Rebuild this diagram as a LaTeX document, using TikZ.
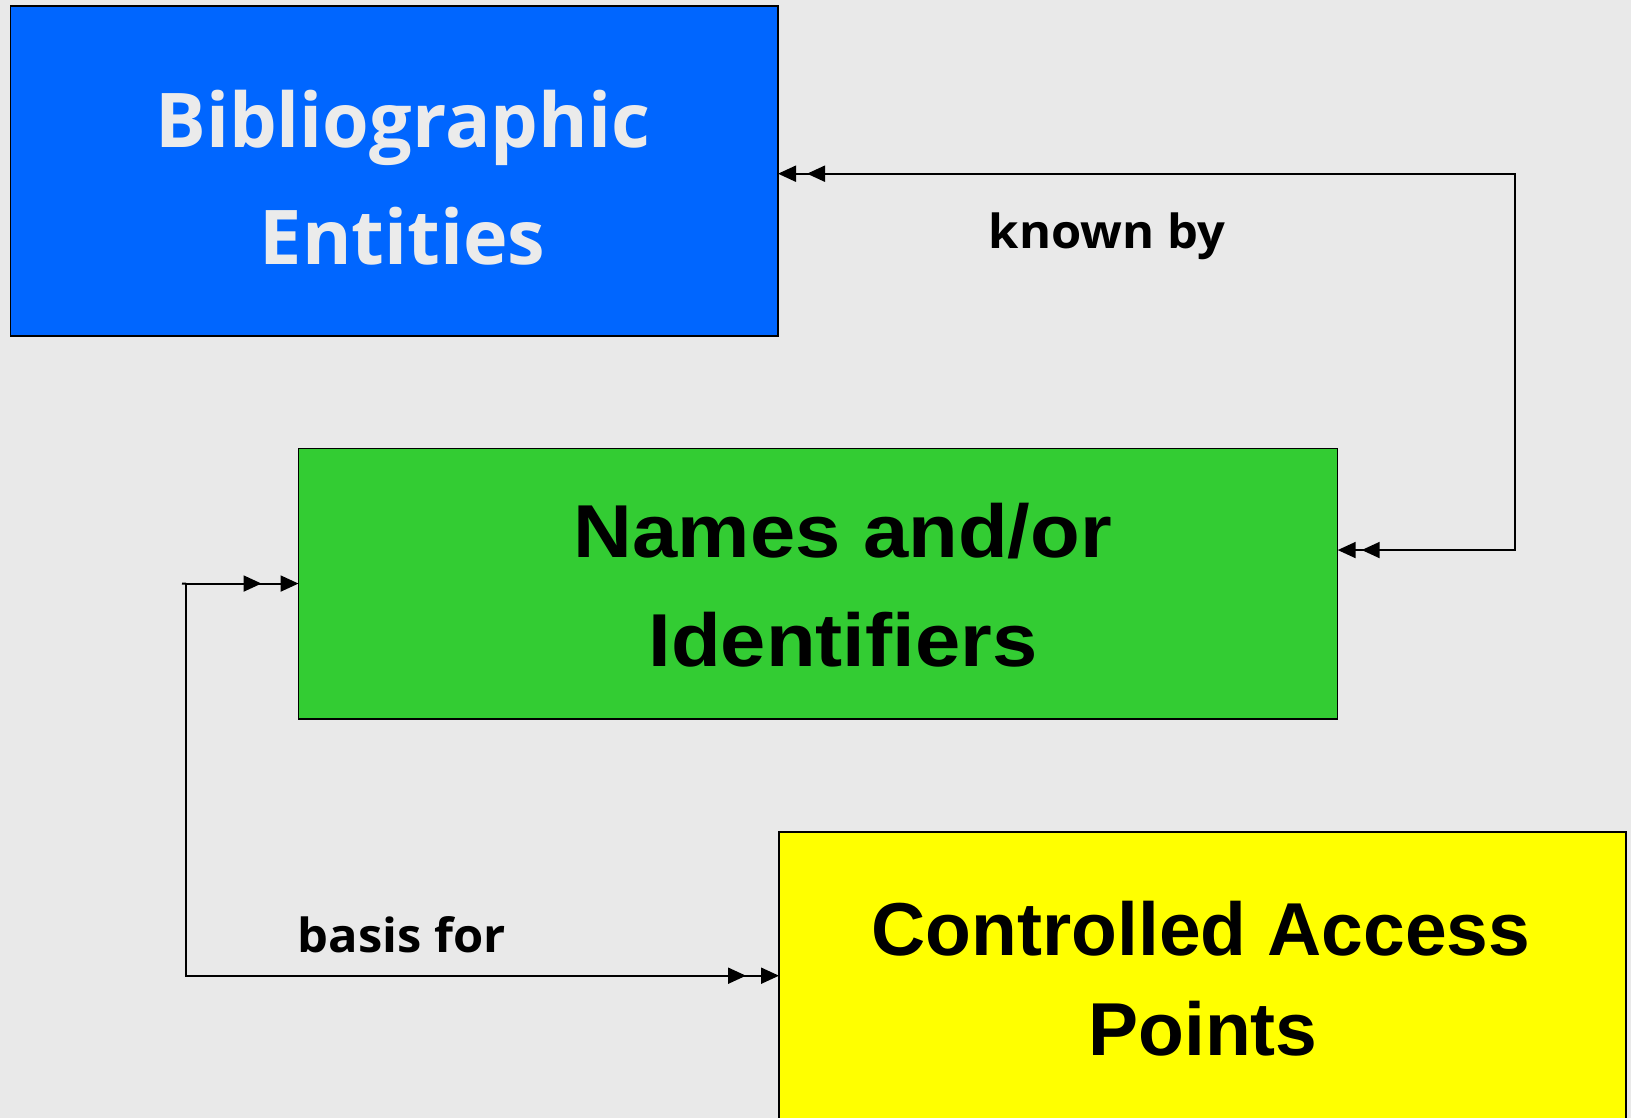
\documentclass[tikz,border=0pt]{standalone}
\usepackage{fontspec}
\setmainfont{Liberation Sans}
\newfontfamily\osans{Open Sans}
\newfontfamily\lblsans[FakeStretch=1.04]{Open Sans}
\newfontfamily\lsans[FakeStretch=1.085]{Liberation Sans}
\newfontfamily\nsans[FakeStretch=1.0]{Liberation Sans}
\usetikzlibrary{arrows.meta}
\definecolor{bgc}{HTML}{E9E9E9}
\definecolor{bibblue}{HTML}{0066FF}
\definecolor{namegreen}{HTML}{33CC33}
\definecolor{capyellow}{HTML}{FFFF00}
\definecolor{bibtext}{HTML}{EBEBEB}
\begin{document}
\begin{tikzpicture}[x=1pt,y=-1pt,
  box/.style={draw=black,line width=1.5pt,anchor=north west,inner sep=0pt,outer sep=0pt},
  bigtxt/.style={anchor=base,inner sep=0pt},
  lbl/.style={anchor=base,inner sep=0pt,font=\lblsans\fontsize{47}{50}\selectfont\bfseries},
  conn/.style={draw=black,line width=2pt},
  tipT/.tip={Triangle[length=18pt,width=16pt]},
  kbarrow/.style={conn,{tipT[]tipT[sep=6pt]}-{tipT[sep=11pt]tipT[]}},
  bfarrow/.style={conn,{tipT[]tipT[sep=19pt]}-{tipT[sep=15pt]tipT[]}}
]
\fill[bgc] (0,0) rectangle (1631,1118);
\useasboundingbox (0,0) rectangle (1631,1118);

\node[box,fill=bibblue,minimum width=767.6pt,minimum height=330pt] (bib) at (10.4,6.2) {};
\node[box,fill=namegreen,minimum width=1039.2pt,minimum height=270.5pt] (names) at (298.5,448.3) {};
\node[box,fill=capyellow,minimum width=847pt,minimum height=300pt] (cap) at (779,832) {};

\node[bigtxt,text=bibtext,font=\osans\fontsize{75.5}{80}\selectfont\bfseries] (bib1) at (402.6,148) {Bibliographic};
\node[bigtxt,text=bibtext,font=\osans\fontsize{75.5}{80}\selectfont\bfseries] (bib2) at (402.6,265) {Entities};
\node[bigtxt,font=\lsans\fontsize{75}{80}\selectfont\bfseries] (nm1) at (843,557) {Names and/or};
\node[bigtxt,font=\lsans\fontsize{75}{80}\selectfont\bfseries] (nm2) at (843,666) {Identifiers};
\node[bigtxt,font=\nsans\fontsize{75}{80}\selectfont\bfseries] (cp1) at (1201,955) {Controlled Access};
\node[bigtxt,font=\nsans\fontsize{75}{80}\selectfont\bfseries] (cp2) at (1203,1055) {Points};

\node[lbl] (known) at (1107,248) {known by};
\node[lbl] (basis) at (402,952) {basis for};

\coordinate (kbc) at (1514.5,173.7);
\coordinate (bc) at (186,975.7);
\coordinate (bstub) at (182,583.5);

\draw[kbarrow] ([yshift=33.5pt]names.east) -| (kbc) -- ([yshift=-2.5pt]bib.east);
\draw[bfarrow] (names.west) -| (bc) -- ([yshift=6.3pt]cap.west);
\draw[conn] (bc |- names.west) -- (bstub);
\end{tikzpicture}
\end{document}
